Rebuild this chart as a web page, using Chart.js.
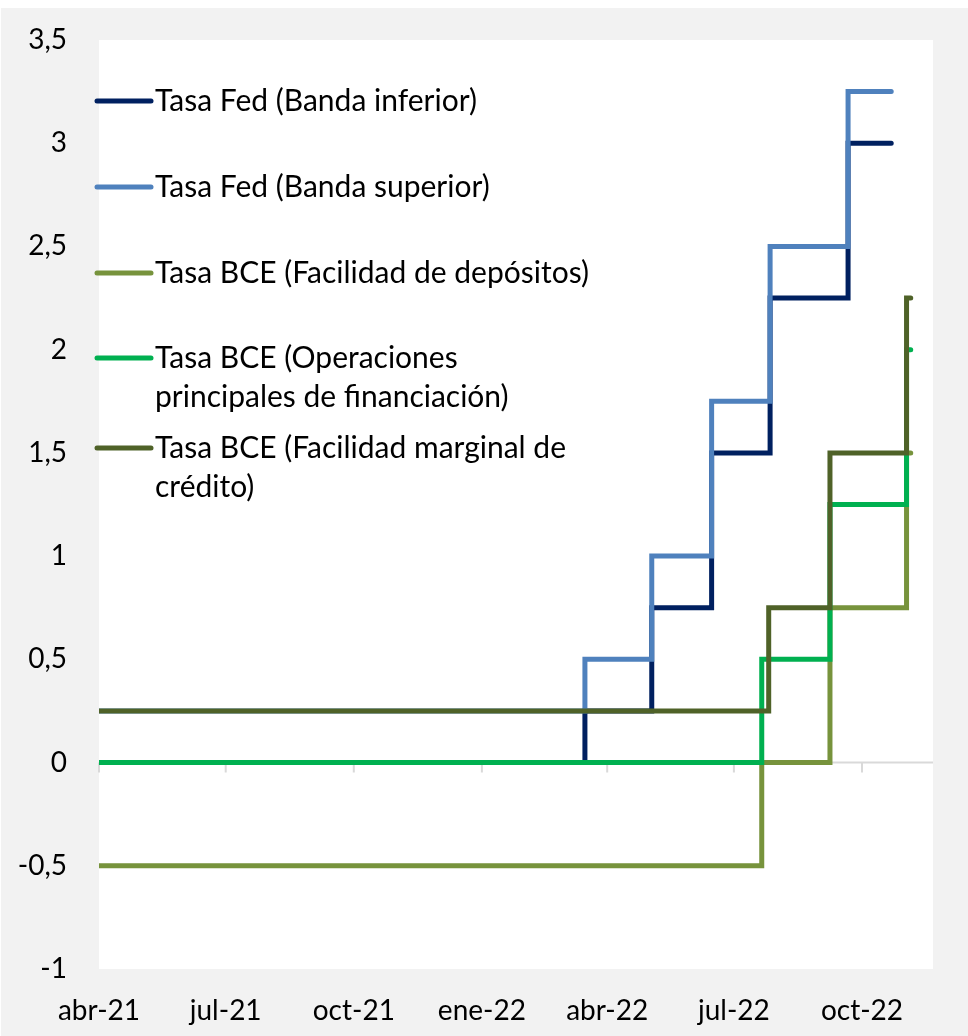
<!DOCTYPE html>
<html>
<head>
<meta charset="utf-8">
<script src="https://cdn.jsdelivr.net/npm/chart.js@4.4.0/dist/chart.umd.min.js"></script>
<style>
  html, body { margin: 0; padding: 0; background: #ffffff; }
  #box { position: absolute; left: 1px; top: 8px; width: 967px; height: 1028px; background: #f2f2f2; }
</style>
</head>
<body>
<div id="box"><canvas id="tasas" width="967" height="1028"></canvas></div>
<script>
// dias desde el 1-abr-2021
var tickDays = [0, 91, 183, 275, 365, 456, 548]
var tickLabels = ["abr-21", "jul-21", "oct-21", "ene-22", "abr-22", "jul-22", "oct-22"]

var fedDays = [0, 349, 397, 440, 482, 538, 569]
var fedInf = [0, 0.25, 0.75, 1.5, 2.25, 3, 3]
var fedSup = [0.25, 0.5, 1, 1.75, 2.5, 3.25, 3.25]

var bceDays = [0, 476, 525, 580, 583]
var mlfDays = [0, 481, 525, 580, 583]
var bceDep = [-0.5, 0, 0.75, 1.5, 1.5]
var bceOpe = [0, 0.5, 1.25, 2, 2]
var bceMlf = [0.25, 0.75, 1.5, 2.25, 2.25]

var labels = ["Tasa Fed (Banda inferior)", "Tasa Fed (Banda superior)", "Tasa BCE (Facilidad de depósitos)",
  "Tasa BCE (Operaciones principales de financiación)", "Tasa BCE (Facilidad marginal de crédito)"]
var legendLines = [
  ["Tasa Fed (Banda inferior)"],
  ["Tasa Fed (Banda superior)"],
  ["Tasa BCE (Facilidad de depósitos)"],
  ["Tasa BCE (Operaciones", "principales de financiación)"],
  ["Tasa BCE (Facilidad marginal de", "crédito)"]
]
var colors = ["#002060", "#4f81bd", "#77933c", "#00b050", "#4f6228"]

function pts(days, vals) {
  return days.map(function (d, i) { return {x: d, y: vals[i]} })
}

var FONT = "Lato, 'DejaVu Sans', sans-serif"

var bgPlugin = {
  id: "fondo",
  beforeDraw: function (chart) {
    var a = chart.chartArea, ctx = chart.ctx
    ctx.save()
    ctx.fillStyle = "#ffffff"
    ctx.fillRect(a.left, a.top, a.right - a.left, a.bottom - a.top)
    // eje en cero con marcas
    var y0 = chart.scales.y.getPixelForValue(0)
    ctx.strokeStyle = "#d9d9d9"
    ctx.lineWidth = 2
    ctx.beginPath()
    ctx.moveTo(a.left, y0)
    ctx.lineTo(a.right, y0)
    tickDays.forEach(function (d) {
      var x = chart.scales.x.getPixelForValue(d)
      ctx.moveTo(x, y0)
      ctx.lineTo(x, y0 + 10)
    })
    ctx.stroke()
    ctx.restore()
  }
}

var legendPlugin = {
  id: "leyenda",
  afterDraw: function (chart) {
    var ctx = chart.ctx
    var rows = [93, 179, 265, 350, 440]
    ctx.save()
    ctx.font = "30px " + FONT
    ctx.textBaseline = "middle"
    ctx.fillStyle = "#000000"
    legendLines.forEach(function (lines, i) {
      ctx.strokeStyle = colors[i]
      ctx.lineWidth = 5
      ctx.lineCap = "round"
      ctx.beginPath()
      ctx.moveTo(96, rows[i])
      ctx.lineTo(150, rows[i])
      ctx.stroke()
      lines.forEach(function (t, j) {
        ctx.fillText(t, 154, rows[i] + j * 39)
      })
    })
    ctx.restore()
  }
}

function serie(i, data, order) {
  return {
    label: labels[i],
    data: data,
    borderColor: colors[i],
    backgroundColor: colors[i],
    borderWidth: 5,
    borderCapStyle: "round",
    borderJoinStyle: "miter",
    pointRadius: 0,
    stepped: true,
    fill: false,
    order: order
  }
}

var ctx = document.getElementById("tasas").getContext("2d")
var chart = new Chart(ctx, {
  type: "line",
  data: {
    datasets: [
      serie(0, pts(fedDays, fedInf), 5),
      serie(1, pts(fedDays, fedSup), 4),
      serie(2, pts(bceDays, bceDep), 3),
      serie(3, pts(bceDays, bceOpe), 2),
      serie(4, pts(mlfDays, bceMlf), 1)
    ]
  },
  options: {
    responsive: false,
    animation: false,
    layout: { padding: { left: 0, right: 35, top: 32, bottom: 0 } },
    plugins: { legend: { display: false }, tooltip: { enabled: false } },
    scales: {
      x: {
        type: "linear",
        min: 0,
        max: 599,
        grid: { display: false },
        border: { display: false },
        afterBuildTicks: function (s) {
          s.ticks = tickDays.map(function (d) { return {value: d} })
        },
        afterFit: function (s) { s.height = 67 },
        ticks: {
          autoSkip: false,
          maxRotation: 0,
          padding: 17,
          color: "#000000",
          font: { family: FONT, size: 28 },
          callback: function (v) { return tickLabels[tickDays.indexOf(v)] }
        }
      },
      y: {
        min: -1,
        max: 3.5,
        grid: { display: false },
        border: { display: false },
        afterFit: function (s) {
          s.width = 98
          s.paddingTop = 0
          s.paddingBottom = 0
        },
        ticks: {
          stepSize: 0.5,
          padding: 24,
          color: "#000000",
          font: { family: FONT, size: 28 },
          callback: function (v) { return String(v).replace(".", ",") }
        }
      }
    }
  },
  plugins: [bgPlugin, legendPlugin]
})
</script>
</body>
</html>
